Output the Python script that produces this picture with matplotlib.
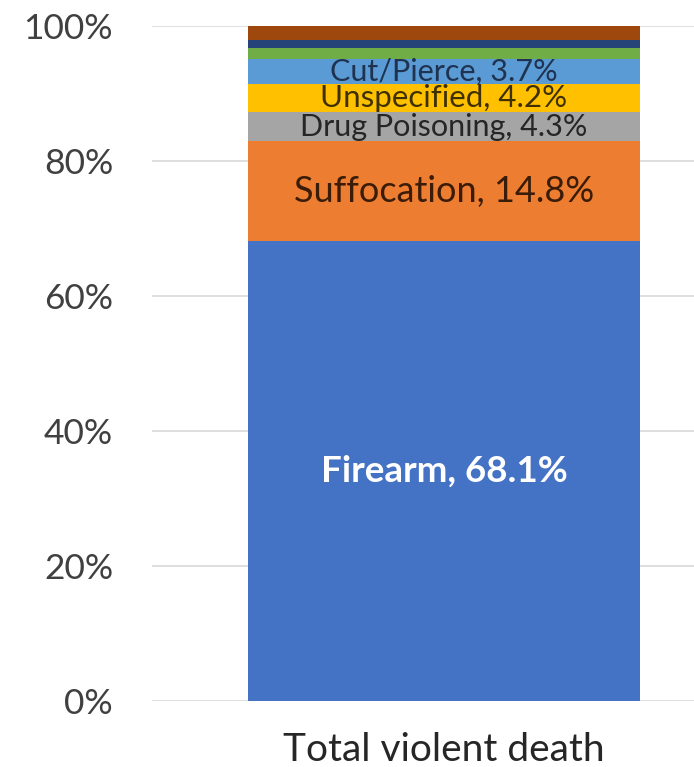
import matplotlib
matplotlib.use("Agg")
import matplotlib.pyplot as plt
from matplotlib.ticker import PercentFormatter

plt.rcParams['font.family'] = ['Lato', 'DejaVu Sans']

category = "Total violent death"
mechanisms = ["Firearm", "Suffocation", "Drug Poisoning", "Unspecified",
              "Cut/Pierce", "Other A", "Other B", "Other C"]
shares = [68.1, 14.8, 4.3, 4.2, 3.7, 1.6, 1.2, 2.1]
show_label = [True, True, True, True, True, False, False, False]

colors = ["#4472C4", "#ED7D31", "#A5A5A5", "#FFC000",
          "#5B9BD5", "#70AD47", "#264478", "#9E480E"]
label_colors = ["white", "#3A1C08", "#262626", "#3F3000", "#1F3350", None, None, None]
label_sizes = [26.5, 26, 22, 22.5, 22, 0, 0, 0]
label_weights = ["bold", "normal", "normal", "normal", "normal", None, None, None]

W, H = 694, 767
fig = plt.figure(figsize=(W / 100, H / 100), dpi=100)
# plot area in pixels: x 152..694, y 26..700.5
ax = fig.add_axes([152 / W, (H - 700.5) / H, (694 - 152) / W, (700.5 - 26) / H])

bar_left_px, bar_right_px = 248, 640
px = 1.0 / (bar_right_px - bar_left_px)  # bar width = 1 data unit
center_px = (bar_left_px + bar_right_px) / 2
ax.set_xlim((152 - center_px) * px, (694 - center_px) * px)
ax.set_ylim(0, 100)

bottom = 0
for name, val, c, show, lc, ls, lw in zip(mechanisms, shares, colors, show_label,
                                          label_colors, label_sizes, label_weights):
    ax.bar(0, val, width=1.0, bottom=bottom, color=c, edgecolor="none", zorder=2)
    if show:
        ax.text(0, bottom + val / 2, f"{name}, {val:.1f}%", ha="center", va="center",
                color=lc, fontsize=ls, fontweight=lw, zorder=3)
    bottom += val

ax.set_yticks(range(0, 101, 20))
ax.yaxis.set_major_formatter(PercentFormatter(decimals=0))
ax.grid(axis="y", color="#D9D9D9", linewidth=1.2, zorder=0)
ax.set_xticks([0])
ax.set_xticklabels([category])
ax.tick_params(axis="y", length=0, pad=28, labelsize=25.5, labelcolor="#404040")
ax.tick_params(axis="x", length=0, pad=23, labelsize=28, labelcolor="#262626")
for s in ax.spines.values():
    s.set_visible(False)

fig.savefig("out.png", dpi=100)
